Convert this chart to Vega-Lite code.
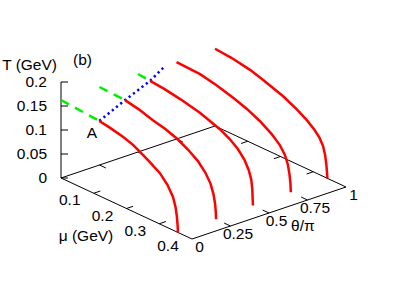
{
  "$schema": "https://vega.github.io/schema/vega-lite/v6.json",
  "width": 407,
  "height": 285,
  "padding": 0,
  "autosize": {"type": "none"},
  "background": "white",
  "config": {"view": {"stroke": null}},
  "data": {"values": [
    {"k": "box", "s": "e1", "mu": 0, "th": 0, "T": 0},
    {"k": "box", "s": "e1", "mu": 0.4, "th": 0, "T": 0},
    {"k": "box", "s": "e2", "mu": 0.4, "th": 0, "T": 0},
    {"k": "box", "s": "e2", "mu": 0.4, "th": 1, "T": 0},
    {"k": "box", "s": "e3", "mu": 0, "th": 0, "T": 0},
    {"k": "box", "s": "e3", "mu": 0, "th": 1, "T": 0},
    {"k": "box", "s": "e4", "mu": 0, "th": 1, "T": 0},
    {"k": "box", "s": "e4", "mu": 0.4, "th": 1, "T": 0},
    {"k": "box", "s": "ez", "mu": 0, "th": 0, "T": 0},
    {"k": "box", "s": "ez", "mu": 0, "th": 0, "T": 0.2},

    {"k": "tick", "s": "tz", "mu": 0, "th": 0, "T": 0},
    {"k": "tick", "s": "tz", "mu": 0, "th": 0, "T": 0.05},
    {"k": "tick", "s": "tz", "mu": 0, "th": 0, "T": 0.1},
    {"k": "tick", "s": "tz", "mu": 0, "th": 0, "T": 0.15},
    {"k": "tick", "s": "tz", "mu": 0, "th": 0, "T": 0.2},
    {"k": "tick", "s": "mf", "mu": 0.1, "th": 0, "T": 0},
    {"k": "tick", "s": "mf", "mu": 0.2, "th": 0, "T": 0},
    {"k": "tick", "s": "mf", "mu": 0.3, "th": 0, "T": 0},
    {"k": "tick", "s": "mb", "mu": 0.1, "th": 1, "T": 0},
    {"k": "tick", "s": "mb", "mu": 0.2, "th": 1, "T": 0},
    {"k": "tick", "s": "mb", "mu": 0.3, "th": 1, "T": 0},
    {"k": "tick", "s": "tf", "mu": 0.4, "th": 0.25, "T": 0},
    {"k": "tick", "s": "tf", "mu": 0.4, "th": 0.5, "T": 0},
    {"k": "tick", "s": "tf", "mu": 0.4, "th": 0.75, "T": 0},
    {"k": "tick", "s": "tb", "mu": 0, "th": 0.25, "T": 0},
    {"k": "tick", "s": "tb", "mu": 0, "th": 0.5, "T": 0},
    {"k": "tick", "s": "tb", "mu": 0, "th": 0.75, "T": 0},

    {"k": "red", "s": "c0", "th": 0, "mu": 0.117, "T": 0.156},
    {"k": "red", "s": "c0", "th": 0, "mu": 0.15, "T": 0.152},
    {"k": "red", "s": "c0", "th": 0, "mu": 0.189, "T": 0.146},
    {"k": "red", "s": "c0", "th": 0, "mu": 0.22, "T": 0.139},
    {"k": "red", "s": "c0", "th": 0, "mu": 0.241, "T": 0.131},
    {"k": "red", "s": "c0", "th": 0, "mu": 0.27, "T": 0.12},
    {"k": "red", "s": "c0", "th": 0, "mu": 0.302, "T": 0.106},
    {"k": "red", "s": "c0", "th": 0, "mu": 0.325, "T": 0.089},
    {"k": "red", "s": "c0", "th": 0, "mu": 0.342, "T": 0.069},
    {"k": "red", "s": "c0", "th": 0, "mu": 0.35, "T": 0.05},
    {"k": "red", "s": "c0", "th": 0, "mu": 0.354, "T": 0.031},
    {"k": "red", "s": "c0", "th": 0, "mu": 0.356, "T": 0.015},
    {"k": "red", "s": "c0", "th": 0, "mu": 0.357, "T": 0},

    {"k": "red", "s": "c1", "th": 0.25, "mu": 0.078, "T": 0.16},
    {"k": "red", "s": "c1", "th": 0.25, "mu": 0.12, "T": 0.154},
    {"k": "red", "s": "c1", "th": 0.25, "mu": 0.163, "T": 0.145},
    {"k": "red", "s": "c1", "th": 0.25, "mu": 0.2, "T": 0.139},
    {"k": "red", "s": "c1", "th": 0.25, "mu": 0.237, "T": 0.13},
    {"k": "red", "s": "c1", "th": 0.25, "mu": 0.27, "T": 0.118},
    {"k": "red", "s": "c1", "th": 0.25, "mu": 0.3, "T": 0.104},
    {"k": "red", "s": "c1", "th": 0.25, "mu": 0.323, "T": 0.087},
    {"k": "red", "s": "c1", "th": 0.25, "mu": 0.339, "T": 0.069},
    {"k": "red", "s": "c1", "th": 0.25, "mu": 0.348, "T": 0.05},
    {"k": "red", "s": "c1", "th": 0.25, "mu": 0.353, "T": 0.031},
    {"k": "red", "s": "c1", "th": 0.25, "mu": 0.355, "T": 0.015},
    {"k": "red", "s": "c1", "th": 0.25, "mu": 0.356, "T": 0},

    {"k": "red", "s": "c2", "th": 0.5, "mu": 0.037, "T": 0.16},
    {"k": "red", "s": "c2", "th": 0.5, "mu": 0.08, "T": 0.157},
    {"k": "red", "s": "c2", "th": 0.5, "mu": 0.13, "T": 0.151},
    {"k": "red", "s": "c2", "th": 0.5, "mu": 0.189, "T": 0.142},
    {"k": "red", "s": "c2", "th": 0.5, "mu": 0.25, "T": 0.127},
    {"k": "red", "s": "c2", "th": 0.5, "mu": 0.28, "T": 0.116},
    {"k": "red", "s": "c2", "th": 0.5, "mu": 0.305, "T": 0.103},
    {"k": "red", "s": "c2", "th": 0.5, "mu": 0.325, "T": 0.087},
    {"k": "red", "s": "c2", "th": 0.5, "mu": 0.338, "T": 0.07},
    {"k": "red", "s": "c2", "th": 0.5, "mu": 0.346, "T": 0.052},
    {"k": "red", "s": "c2", "th": 0.5, "mu": 0.349, "T": 0.033},
    {"k": "red", "s": "c2", "th": 0.5, "mu": 0.35, "T": 0.015},
    {"k": "red", "s": "c2", "th": 0.5, "mu": 0.351, "T": 0},

    {"k": "red", "s": "c3", "th": 0.75, "mu": 0, "T": 0.16},
    {"k": "red", "s": "c3", "th": 0.75, "mu": 0.072, "T": 0.158},
    {"k": "red", "s": "c3", "th": 0.75, "mu": 0.12, "T": 0.151},
    {"k": "red", "s": "c3", "th": 0.75, "mu": 0.173, "T": 0.141},
    {"k": "red", "s": "c3", "th": 0.75, "mu": 0.215, "T": 0.131},
    {"k": "red", "s": "c3", "th": 0.75, "mu": 0.255, "T": 0.118},
    {"k": "red", "s": "c3", "th": 0.75, "mu": 0.29, "T": 0.103},
    {"k": "red", "s": "c3", "th": 0.75, "mu": 0.315, "T": 0.088},
    {"k": "red", "s": "c3", "th": 0.75, "mu": 0.331, "T": 0.072},
    {"k": "red", "s": "c3", "th": 0.75, "mu": 0.34, "T": 0.055},
    {"k": "red", "s": "c3", "th": 0.75, "mu": 0.345, "T": 0.036},
    {"k": "red", "s": "c3", "th": 0.75, "mu": 0.348, "T": 0.017},
    {"k": "red", "s": "c3", "th": 0.75, "mu": 0.349, "T": 0},

    {"k": "red", "s": "c4", "th": 1, "mu": 0, "T": 0.161},
    {"k": "red", "s": "c4", "th": 1, "mu": 0.05, "T": 0.158},
    {"k": "red", "s": "c4", "th": 1, "mu": 0.107, "T": 0.151},
    {"k": "red", "s": "c4", "th": 1, "mu": 0.15, "T": 0.142},
    {"k": "red", "s": "c4", "th": 1, "mu": 0.208, "T": 0.128},
    {"k": "red", "s": "c4", "th": 1, "mu": 0.25, "T": 0.114},
    {"k": "red", "s": "c4", "th": 1, "mu": 0.281, "T": 0.101},
    {"k": "red", "s": "c4", "th": 1, "mu": 0.303, "T": 0.089},
    {"k": "red", "s": "c4", "th": 1, "mu": 0.319, "T": 0.077},
    {"k": "red", "s": "c4", "th": 1, "mu": 0.33, "T": 0.063},
    {"k": "red", "s": "c4", "th": 1, "mu": 0.336, "T": 0.047},
    {"k": "red", "s": "c4", "th": 1, "mu": 0.34, "T": 0.028},
    {"k": "red", "s": "c4", "th": 1, "mu": 0.342, "T": 0.012},
    {"k": "red", "s": "c4", "th": 1, "mu": 0.343, "T": 0},

    {"k": "green", "s": "g0", "th": 0, "mu": 0, "T": 0.1625},
    {"k": "green", "s": "g0", "th": 0, "mu": 0.117, "T": 0.156},
    {"k": "green", "s": "g1", "th": 0.25, "mu": 0, "T": 0.1625},
    {"k": "green", "s": "g1", "th": 0.25, "mu": 0.078, "T": 0.16},
    {"k": "green", "s": "g2", "th": 0.5, "mu": 0, "T": 0.1625},
    {"k": "green", "s": "g2", "th": 0.5, "mu": 0.037, "T": 0.16},

    {"k": "blue", "s": "b", "th": 0, "mu": 0.117, "T": 0.156},
    {"k": "blue", "s": "b", "th": 0.25, "mu": 0.078, "T": 0.16},
    {"k": "blue", "s": "b", "th": 0.5, "mu": 0.037, "T": 0.16},
    {"k": "blue", "s": "b", "th": 0.675, "mu": 0, "T": 0.16},

    {"k": "lz", "mu": 0, "th": 0, "T": 0, "lab": "0"},
    {"k": "lz", "mu": 0, "th": 0, "T": 0.05, "lab": "0.05"},
    {"k": "lz", "mu": 0, "th": 0, "T": 0.1, "lab": "0.1"},
    {"k": "lz", "mu": 0, "th": 0, "T": 0.15, "lab": "0.15"},
    {"k": "lz", "mu": 0, "th": 0, "T": 0.2, "lab": "0.2"},
    {"k": "lm", "mu": 0.1, "th": 0, "T": 0, "lab": "0.1"},
    {"k": "lm", "mu": 0.2, "th": 0, "T": 0, "lab": "0.2"},
    {"k": "lm", "mu": 0.3, "th": 0, "T": 0, "lab": "0.3"},
    {"k": "lm", "mu": 0.4, "th": 0, "T": 0, "lab": "0.4"},
    {"k": "lt", "mu": 0.4, "th": 0, "T": 0, "lab": "0"},
    {"k": "lt", "mu": 0.4, "th": 0.25, "T": 0, "lab": "0.25"},
    {"k": "lt", "mu": 0.4, "th": 0.5, "T": 0, "lab": "0.5"},
    {"k": "lt", "mu": 0.4, "th": 0.75, "T": 0, "lab": "0.75"},
    {"k": "lt", "mu": 0.4, "th": 1, "T": 0, "lab": "1"},
    {"k": "title", "mu": -0.096, "th": 0, "T": 0.2048, "lab": "T (GeV)"},
    {"k": "title", "mu": 0.0656, "th": 0, "T": 0.2667, "lab": "(b)"},
    {"k": "title", "mu": 0.0947, "th": 0, "T": 0.1248, "lab": "A"},
    {"k": "title", "mu": 0.0763, "th": 0, "T": -0.0967, "lab": "μ (GeV)"},
    {"k": "title", "mu": 0.4, "th": 0.72, "T": -0.0509, "lab": "θ/π"}
  ]},
  "transform": [
    {"calculate": "61 + 327.5 * datum.mu + 154 * datum.th", "as": "px"},
    {"calculate": "178 + 152.5 * datum.mu - 52 * datum.th - 480 * datum.T", "as": "py"}
  ],
  "encoding": {
    "x": {"field": "px", "type": "quantitative", "scale": {"domain": [0, 407], "nice": false, "zero": false}, "axis": null},
    "y": {"field": "py", "type": "quantitative", "scale": {"domain": [0, 285], "nice": false, "zero": false, "reverse": true}, "axis": null}
  },
  "layer": [
    {
      "transform": [{"filter": "datum.k === 'box'"}],
      "mark": {"type": "line", "color": "black", "strokeWidth": 1},
      "encoding": {"detail": {"field": "s"}}
    },
    {
      "transform": [{"filter": "datum.k === 'tick'"}],
      "mark": {"type": "point", "filled": false, "stroke": "black", "strokeWidth": 1, "size": 196, "opacity": 1},
      "encoding": {
        "shape": {"field": "s", "type": "nominal", "legend": null,
          "scale": {"domain": ["tz", "mf", "mb", "tf", "tb"],
                    "range": ["M0,0L1,0", "M0,0L0.948,-0.32", "M0,0L-0.948,0.32", "M0,0L-0.907,-0.422", "M0,0L0.907,0.422"]}}
      }
    },
    {
      "transform": [{"filter": "datum.k === 'green'"}],
      "mark": {"type": "line", "color": "#00ee00", "strokeWidth": 2.5, "strokeDash": [9, 7], "strokeCap": "butt"},
      "encoding": {"detail": {"field": "s"}}
    },
    {
      "transform": [{"filter": "datum.k === 'blue'"}],
      "mark": {"type": "line", "color": "#0000ff", "strokeWidth": 2.5, "strokeDash": [2.2, 3.2], "strokeCap": "butt"},
      "encoding": {"detail": {"field": "s"}}
    },
    {
      "transform": [{"filter": "datum.k === 'red'"}],
      "mark": {"type": "line", "color": "#ff0000", "strokeWidth": 2.5},
      "encoding": {"detail": {"field": "s"}, "order": {"field": "T", "sort": "descending"}}
    },
    {
      "transform": [{"filter": "datum.k === 'lz'"}],
      "mark": {"type": "text", "align": "right", "baseline": "middle", "dx": -14, "font": "Liberation Sans", "fontSize": 15.5, "color": "black"},
      "encoding": {"text": {"field": "lab"}}
    },
    {
      "transform": [{"filter": "datum.k === 'lm'"}],
      "mark": {"type": "text", "align": "center", "baseline": "middle", "dx": -24, "dy": 7, "font": "Liberation Sans", "fontSize": 15.5, "color": "black"},
      "encoding": {"text": {"field": "lab"}}
    },
    {
      "transform": [{"filter": "datum.k === 'lt'"}],
      "mark": {"type": "text", "align": "center", "baseline": "middle", "dx": 7.5, "dy": 7.5, "font": "Liberation Sans", "fontSize": 15.5, "color": "black"},
      "encoding": {"text": {"field": "lab"}}
    },
    {
      "transform": [{"filter": "datum.k === 'title'"}],
      "mark": {"type": "text", "align": "center", "baseline": "middle", "font": "Liberation Sans", "fontSize": 15.5, "color": "black"},
      "encoding": {"text": {"field": "lab"}}
    }
  ]
}
